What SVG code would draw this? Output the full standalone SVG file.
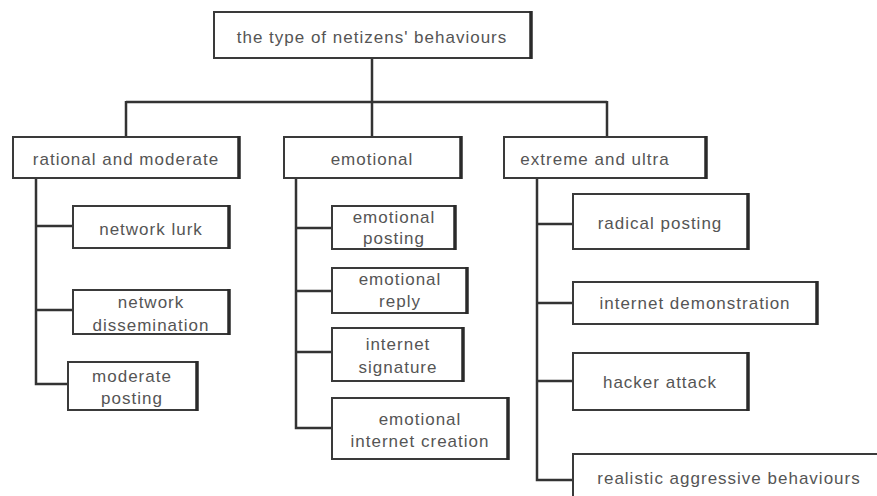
<svg xmlns="http://www.w3.org/2000/svg" width="877" height="496" viewBox="0 0 877 496">
<style>
.box{fill:#fff;stroke:#3a3a3a;stroke-width:2}
.edge{stroke:#2a2a2a;stroke-width:3.5;fill:none}
.t{font-family:"Liberation Sans",Arial,sans-serif;font-size:17px;letter-spacing:1px;fill:#555;text-anchor:middle}
.c{fill:none;stroke:#333;stroke-width:2.5}
</style>
<rect width="877" height="496" fill="#fff"/>
<g id="connectors">
<path class="c" d="M372,58V102M126,102H607M126,101V137M372,102V137M607,101V137"/>
<path class="c" d="M36,178V384H68M36,226H73M36,310H73"/>
<path class="c" d="M296,178V428H332M296,228H332M296,291H332M296,352H332"/>
<path class="c" d="M537,178V480H573M537,224H573M537,303H573M537,381H573"/>
</g>
<g id="root"><rect class="box" x="214" y="12" width="317" height="46"/><line class="edge" x1="531" y1="11" x2="531" y2="59"/><text class="t" x="372" y="43">the type of netizens' behaviours</text></g>
<g id="rational"><rect class="box" x="13" y="137" width="226" height="41"/><line class="edge" x1="239" y1="136" x2="239" y2="179"/><text class="t" x="126" y="165">rational and moderate</text></g>
<g id="emotional"><rect class="box" x="284" y="137" width="177" height="41"/><line class="edge" x1="461" y1="136" x2="461" y2="179"/><text class="t" x="372" y="165">emotional</text></g>
<g id="extreme"><rect class="box" x="504" y="137" width="202" height="41"/><line class="edge" x1="706" y1="136" x2="706" y2="179"/><text class="t" x="595" y="165">extreme and ultra</text></g>
<g id="network-lurk"><rect class="box" x="73" y="206" width="156" height="42"/><line class="edge" x1="229" y1="205" x2="229" y2="249"/><text class="t" x="151" y="235">network lurk</text></g>
<g id="network-dissemination"><rect class="box" x="73" y="290" width="156" height="44"/><line class="edge" x1="229" y1="289" x2="229" y2="335"/><text class="t" x="151" y="308">network</text><text class="t" x="151" y="331">dissemination</text></g>
<g id="moderate-posting"><rect class="box" x="68" y="362" width="129" height="48"/><line class="edge" x1="197" y1="361" x2="197" y2="411"/><text class="t" x="132" y="382">moderate</text><text class="t" x="132" y="404">posting</text></g>
<g id="emotional-posting"><rect class="box" x="332" y="206" width="123" height="43"/><line class="edge" x1="455" y1="205" x2="455" y2="250"/><text class="t" x="394" y="223">emotional</text><text class="t" x="394" y="244">posting</text></g>
<g id="emotional-reply"><rect class="box" x="332" y="268" width="135" height="45"/><line class="edge" x1="467" y1="267" x2="467" y2="314"/><text class="t" x="400" y="285">emotional</text><text class="t" x="400" y="307">reply</text></g>
<g id="internet-signature"><rect class="box" x="332" y="328" width="131" height="53"/><line class="edge" x1="463" y1="327" x2="463" y2="382"/><text class="t" x="398" y="350">internet</text><text class="t" x="398" y="373">signature</text></g>
<g id="emotional-internet-creation"><rect class="box" x="332" y="398" width="176" height="61"/><line class="edge" x1="508" y1="397" x2="508" y2="460"/><text class="t" x="420" y="425">emotional</text><text class="t" x="420" y="447">internet creation</text></g>
<g id="radical-posting"><rect class="box" x="573" y="194" width="175" height="55"/><line class="edge" x1="748" y1="193" x2="748" y2="250"/><text class="t" x="660" y="229">radical posting</text></g>
<g id="internet-demonstration"><rect class="box" x="573" y="282" width="244" height="42"/><line class="edge" x1="817" y1="281" x2="817" y2="325"/><text class="t" x="695" y="309">internet demonstration</text></g>
<g id="hacker-attack"><rect class="box" x="573" y="353" width="175" height="57"/><line class="edge" x1="748" y1="352" x2="748" y2="411"/><text class="t" x="660" y="388">hacker attack</text></g>
<g id="realistic-aggressive-behaviours"><rect class="box" x="573" y="454" width="320" height="60"/><text class="t" x="729" y="484">realistic aggressive behaviours</text></g>
</svg>
